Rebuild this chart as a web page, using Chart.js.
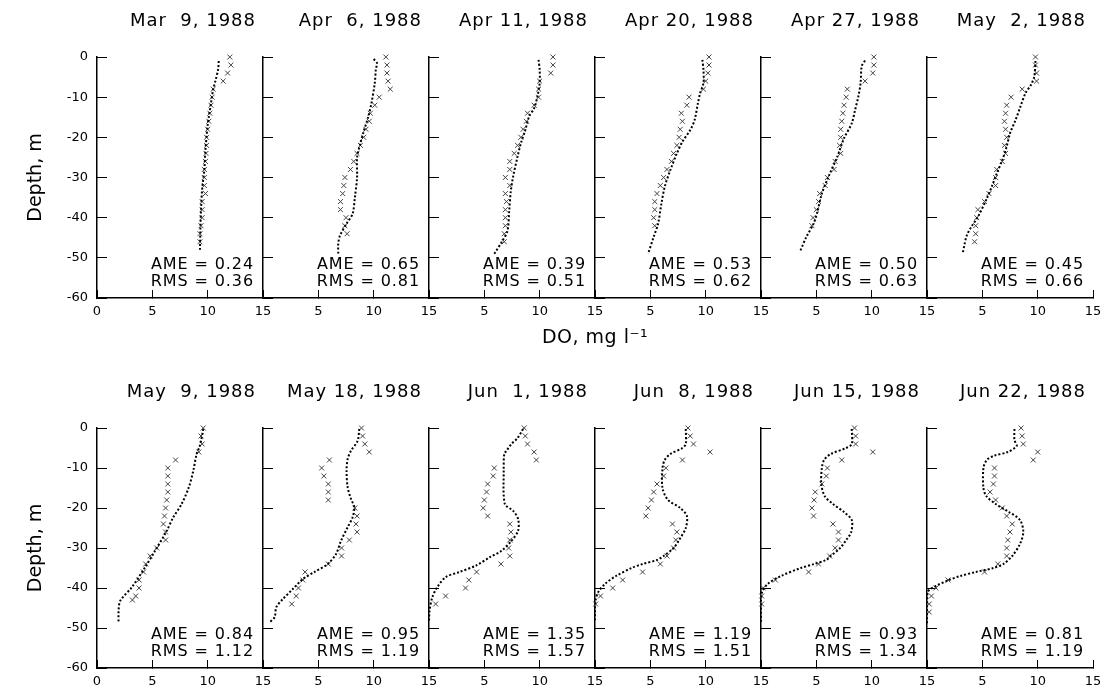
<!DOCTYPE html>
<html>
<head>
<meta charset="utf-8">
<script src="https://cdn.jsdelivr.net/npm/chart.js@4.4.1/dist/chart.umd.min.js"></script>
<style>
  body { margin: 0; background: #fff; }
  #wrap { position: relative; width: 1106px; height: 698px; }
  #wrap canvas { position: absolute; left: 0; top: 0; }
</style>
</head>
<body>
<div id="wrap"></div>
<script>
// survey dates, one panel each
const dates = [
  "Mar  9, 1988", "Apr  6, 1988", "Apr 11, 1988", "Apr 20, 1988", "Apr 27, 1988", "May  2, 1988",
  "May  9, 1988", "May 18, 1988", "Jun  1, 1988", "Jun  8, 1988", "Jun 15, 1988", "Jun 22, 1988",
];
const ame = ["0.24", "0.65", "0.39", "0.53", "0.50", "0.45", "0.84", "0.95", "1.35", "1.19", "0.93", "0.81"];
const rms = ["0.36", "0.81", "0.51", "0.62", "0.63", "0.66", "1.12", "1.19", "1.57", "1.51", "1.34", "1.19"];

const doTicks = [0, 5, 10, 15];
const depthTicks = [0, -10, -20, -30, -40, -50, -60];

// [DO mg/l, depth m] — simulated profile (dotted)
const mar09Model = [[11.0,-1],[10.95,-3],[10.7,-6],[10.5,-8],[10.3,-11.5],[10.1,-15],[10.0,-17],[9.8,-23],[9.7,-28],[9.5,-33],[9.4,-38],[9.35,-42],[9.3,-48.5]];
const apr06Model = [[10.0,-0.5],[10.3,-1.5],[10.2,-3],[10.1,-6.5],[9.8,-11.5],[9.5,-15],[9.1,-18.5],[8.8,-21.5],[8.5,-25],[8.5,-30],[8.3,-35],[8.1,-39],[7.55,-41.5],[6.95,-44.5],[6.8,-46.5],[6.8,-49]];
const apr11Model = [[9.9,-0.7],[10.0,-3.2],[10.0,-6.5],[9.8,-9.8],[9.5,-12.75],[9.05,-14.8],[8.7,-18.2],[8.3,-21.5],[8.0,-24.8],[7.6,-29.8],[7.4,-33.2],[7.25,-38.2],[7.1,-43.2],[6.65,-45.7],[5.9,-49]];
const apr20Model = [[9.7,-0.7],[9.8,-3.2],[9.8,-6.5],[9.5,-9],[9.3,-11.5],[9.0,-15.7],[8.6,-18.2],[7.9,-21.1],[7.4,-24],[6.8,-28.2],[6.3,-32.3],[6.0,-36.5],[5.7,-41.5],[5.3,-44.8],[4.8,-49]];
const apr27Model = [[9.4,-0.9],[9.1,-2.3],[9.0,-6.5],[8.8,-9.8],[8.5,-13.2],[8.2,-16.5],[7.5,-20.25],[6.9,-24.8],[6.1,-29.8],[5.5,-34],[5.05,-39],[4.75,-41.5],[4.1,-44.8],[3.5,-48.6]];
const may02Model = [[9.8,-1],[9.7,-4.8],[9.4,-6.9],[8.9,-9],[8.45,-12.3],[8.0,-15.7],[7.5,-19],[7.2,-22.3],[6.8,-25.7],[6.3,-29],[5.85,-32.3],[5.4,-35.25],[4.6,-39.8],[4.0,-42.3],[3.6,-44.4],[3.4,-46.5],[3.25,-48.6]];
const may09Model = [[9.6,-0.25],[9.4,-3.2],[9.25,-4.8],[9.0,-6.5],[8.7,-10.7],[8.3,-14.8],[7.65,-19],[6.9,-22.3],[6.3,-25.7],[5.25,-30.7],[4.35,-34.8],[3.15,-39.8],[2.1,-43.2],[1.95,-45.7],[1.95,-48.6]];
const may18Model = [[8.7,-0.25],[8.55,-3.2],[7.95,-5.7],[7.65,-7.75],[7.55,-10.7],[7.65,-14.8],[7.95,-17.75],[8.25,-19.8],[8.1,-22.3],[7.65,-24.8],[7.05,-28.2],[6.6,-31.5],[5.85,-34],[4.65,-36],[3.6,-37.75],[2.7,-40.25],[1.8,-42.75],[1.2,-44.8],[1.05,-47.3],[0.6,-48.6]];
const jun01Model = [[8.5,-0.25],[8.0,-2.5],[7.45,-4],[7.0,-5.7],[6.8,-6.5],[6.75,-10.7],[6.85,-19],[7.6,-20.7],[8.05,-22.75],[8.05,-25.7],[7.45,-28.2],[6.55,-30.7],[5.5,-32.3],[4.25,-34.4],[2.75,-36],[1.5,-37.3],[0.75,-39.8],[0.3,-42.3],[0.05,-45.7],[0.0,-48.5]];
const jun08Model = [[8.2,-0.25],[8.2,-4],[7.9,-5],[6.8,-6.5],[6.3,-8],[6.1,-10],[6.1,-15],[6.6,-18],[7.7,-20],[8.3,-22],[8.2,-25],[7.6,-28],[7.1,-30],[6.2,-32],[5.6,-33],[4.3,-34],[3.3,-35],[1.9,-37],[0.9,-39],[0.3,-41],[0.05,-43],[0,-45],[0,-48.5]];
const jun15Model = [[8.2,-0.25],[8.2,-4],[7.7,-5],[6.3,-6.5],[5.7,-8],[5.5,-10],[5.45,-14],[5.75,-17],[6.5,-19],[7.5,-21],[8.2,-23],[8.15,-26],[7.7,-28],[7.15,-30],[6.3,-32],[5.9,-33],[4.8,-34],[3.6,-35],[1.8,-37],[0.6,-39],[0.1,-41],[0,-43],[0,-48.5]];
const jun22Model = [[7.9,-0.25],[7.9,-3],[8.1,-4.5],[7.3,-6],[6.0,-7],[5.4,-8],[5.1,-10],[5.1,-15],[5.35,-17],[6.2,-19],[7.4,-21],[8.4,-23],[8.7,-26],[8.4,-29],[7.7,-32],[6.9,-34],[6.0,-35],[4.4,-36],[3.0,-37],[2.0,-38],[0.8,-39.5],[0.06,-41],[0,-45],[0,-49]];

// [DO mg/l, depth m] — measured (x marks)
const mar09Obs = [[12.0,0],[12.1,-2],[11.8,-4],[11.4,-6],[10.5,-8],[10.4,-10],[10.3,-12],[10.2,-14],[10.1,-16],[10.0,-18],[9.9,-20],[9.9,-22],[9.85,-24],[9.8,-26],[9.7,-28],[9.7,-30],[9.7,-32],[9.8,-34],[9.5,-36],[9.5,-38],[9.5,-40],[9.4,-42],[9.3,-44],[9.3,-46]];
const apr06Obs = [[11.1,0],[11.2,-2],[11.2,-4],[11.3,-6],[11.5,-8],[10.5,-10],[10.1,-12],[9.7,-14],[9.6,-16],[9.3,-18],[9.1,-20],[8.8,-22],[8.5,-24],[8.2,-26],[7.9,-28],[7.4,-30],[7.3,-32],[7.2,-34],[7.0,-36],[7.0,-38],[7.5,-40],[7.4,-42],[7.6,-44]];
const apr11Obs = [[11.2,0],[11.2,-2],[11.0,-4],[10.0,-6],[9.9,-8],[9.9,-10],[9.5,-12],[8.9,-14],[8.8,-16],[8.5,-18],[8.3,-20],[8.0,-22],[7.7,-24],[7.3,-26],[7.3,-28],[6.9,-30],[7.3,-32],[6.9,-34],[7.0,-36],[6.9,-38],[6.9,-40],[6.9,-42],[6.8,-44],[6.8,-46]];
const apr20Obs = [[10.3,0],[10.3,-2],[10.2,-4],[10.0,-6],[9.8,-8],[8.5,-10],[8.3,-12],[7.8,-14],[7.9,-16],[7.7,-18],[7.6,-20],[7.4,-22],[7.1,-24],[6.9,-26],[6.5,-28],[6.2,-30],[5.9,-32],[5.6,-34],[5.4,-36],[5.4,-38],[5.3,-40],[5.4,-42]];
const apr27Obs = [[10.2,0],[10.2,-2],[10.1,-4],[9.4,-6],[7.8,-8],[7.7,-10],[7.5,-12],[7.4,-14],[7.3,-16],[7.2,-18],[7.2,-20],[7.1,-22],[7.2,-24],[6.7,-26],[6.6,-28],[6.0,-30],[5.8,-32],[5.3,-34],[5.2,-36],[5.0,-38],[4.7,-40],[4.6,-42]];
const may02Obs = [[9.8,0],[9.8,-2],[9.9,-4],[9.9,-6],[8.6,-8],[7.6,-10],[7.2,-12],[7.1,-14],[7.0,-16],[7.1,-18],[7.2,-20],[7.0,-22],[7.1,-24],[6.8,-26],[6.3,-28],[6.2,-30],[6.2,-32],[5.6,-34],[5.2,-36],[4.6,-38],[4.5,-40],[4.4,-42],[4.4,-44],[4.3,-46]];
const may09Obs = [[9.6,0],[9.4,-2],[9.5,-4],[9.2,-6],[7.1,-8],[6.4,-10],[6.4,-12],[6.4,-14],[6.4,-16],[6.3,-18],[6.2,-20],[6.1,-22],[6.0,-24],[6.2,-26],[6.2,-28],[5.4,-30],[4.8,-32],[4.4,-34],[4.2,-36],[3.8,-38],[3.8,-40],[3.5,-42],[3.2,-43]];
const may18Obs = [[8.9,0],[9.0,-2],[9.2,-4],[9.6,-6],[6.0,-8],[5.3,-10],[5.5,-12],[5.9,-14],[5.9,-16],[5.9,-18],[8.3,-20],[8.5,-22],[8.4,-24],[8.5,-26],[7.8,-28],[7.1,-30],[7.1,-32],[5.9,-34],[3.8,-36],[3.6,-38],[3.2,-40],[3.0,-42],[2.6,-44]];
const jun01Obs = [[8.6,0],[8.7,-2],[8.9,-4],[9.5,-6],[9.7,-8],[5.9,-10],[5.8,-12],[5.3,-14],[5.2,-16],[5.0,-18],[4.9,-20],[5.3,-22],[7.3,-24],[7.4,-26],[7.3,-28],[7.2,-30],[7.3,-32],[6.5,-34],[4.3,-36],[3.6,-38],[3.3,-40],[1.5,-42],[0.6,-44]];
const jun08Obs = [[8.4,0],[8.6,-2],[8.9,-4],[10.4,-6],[7.9,-8],[6.4,-10],[6.2,-12],[5.6,-14],[5.3,-16],[5.1,-18],[4.8,-20],[4.6,-22],[7.0,-24],[7.4,-26],[7.3,-28],[7.1,-30],[6.5,-32],[5.9,-34],[4.3,-36],[2.5,-38],[1.6,-40],[0.5,-42],[0.06,-44]];
const jun15Obs = [[8.45,0],[8.55,-2],[8.55,-4],[10.1,-6],[7.3,-8],[6.0,-10],[5.9,-12],[5.5,-14],[4.9,-16],[4.8,-18],[4.6,-20],[4.75,-22],[6.5,-24],[7.0,-26],[7.0,-28],[6.7,-30],[6.2,-32],[5.2,-34],[4.3,-36],[1.3,-38],[0.2,-40],[0.06,-42],[0.06,-44]];
const jun22Obs = [[8.5,0],[8.6,-2],[8.7,-4],[10.0,-6],[9.6,-8],[6.1,-10],[6.1,-12],[6.0,-14],[5.7,-16],[6.2,-18],[6.8,-20],[7.2,-22],[7.7,-24],[7.5,-26],[7.3,-28],[7.2,-30],[7.2,-32],[6.4,-34],[5.2,-36],[1.9,-38],[0.8,-40],[0.4,-42],[0.2,-44],[0.2,-46]];

const models = [mar09Model, apr06Model, apr11Model, apr20Model, apr27Model, may02Model,
                may09Model, may18Model, jun01Model, jun08Model, jun15Model, jun22Model];
const observed = [mar09Obs, apr06Obs, apr11Obs, apr20Obs, apr27Obs, may02Obs,
                  may09Obs, may18Obs, jun01Obs, jun08Obs, jun15Obs, jun22Obs];

// page layout (px)
const W = 1106, H = 698;
const firstLeft = 97, panelW = 166;
const rows = [{ top: 57, bottom: 298 }, { top: 428, bottom: 668 }];
const xAxisH = 30;
const font = "DejaVu Sans";

const toXY = (pairs) => pairs.map(([x, y]) => ({ x, y }));

const panelText = {
  id: "panelText",
  afterDraw(chart, args, opts) {
    const ctx = chart.ctx;
    const a = chart.chartArea;
    ctx.save();
    ctx.fillStyle = "#000";
    ctx.textAlign = "right";
    ctx.textBaseline = "middle";
    ctx.font = `18px "${font}"`;
    ctx.letterSpacing = "1px";
    ctx.fillText(opts.title, a.right - 7, a.top - 36);
    ctx.font = `16px "${font}"`;
    ctx.letterSpacing = "0.9px";
    ctx.fillText("AME = " + opts.ame, a.right - 9, a.bottom - 33);
    ctx.fillText("RMS = " + opts.rms, a.right - 9, a.bottom - 16);
    if (opts.xTitle) {
      ctx.textAlign = "center";
      ctx.letterSpacing = "0.5px";
      ctx.font = `19px "${font}"`;
      ctx.fillText("DO, mg l⁻¹", 595, opts.xTitleY);
    }
    ctx.restore();
  },
};

const wrap = document.getElementById("wrap");

for (let k = 0; k < 12; k++) {
  const row = Math.floor(k / 6);
  const col = k % 6;
  const left = firstLeft + panelW * col;
  const right = col === 5 ? 1093 : left + panelW;
  const r = rows[row];
  const yAxisW = col === 0 ? left - 21 : 0;

  const canvas = document.createElement("canvas");
  canvas.width = W;
  canvas.height = H;
  wrap.appendChild(canvas);

  new Chart(canvas, {
    type: "scatter",
    data: {
      datasets: [
        {
          label: "model",
          data: toXY(models[k]),
          showLine: true,
          borderColor: "#000",
          borderWidth: 2,
          borderDash: [2, 2],
          pointRadius: 0,
          tension: 0.3,
        },
        {
          label: "observed",
          data: toXY(observed[k]),
          showLine: false,
          pointStyle: "crossRot",
          pointRadius: 3.5,
          borderColor: "#444",
          borderWidth: 1,
          clip: false,
        },
      ],
    },
    options: {
      responsive: false,
      animation: false,
      layout: {
        padding: { left: col === 0 ? 21 : left, right: W - right, top: r.top, bottom: H - r.bottom - xAxisH },
      },
      plugins: {
        legend: { display: false },
        tooltip: { enabled: false },
        panelText: {
          title: dates[k],
          ame: ame[k],
          rms: rms[k],
          xTitle: k === 0,
          xTitleY: 338,
        },
      },
      scales: {
        x: {
          type: "linear",
          min: doTicks[0],
          max: doTicks[doTicks.length - 1],
          afterBuildTicks: (s) => { s.ticks = doTicks.map((v) => ({ value: v })); },
          afterFit: (s) => {
            s.height = xAxisH;
            s.paddingLeft = 0; s.paddingRight = 0;
          },
          grid: { drawOnChartArea: false, tickLength: -8, color: "#000", lineWidth: 1 },
          border: { display: true, color: "#000", width: 1.5 },
          ticks: {
            autoSkip: false,
            maxRotation: 0,
            padding: 14,
            color: "#000",
            font: { family: font, size: 13 },
            callback: (v) => (col > 0 && v === 0 ? "" : String(v)),
          },
        },
        y: {
          type: "linear",
          min: depthTicks[depthTicks.length - 1],
          max: depthTicks[0],
          afterBuildTicks: (s) => { s.ticks = depthTicks.map((v) => ({ value: v })); },
          afterFit: (s) => {
            s.width = yAxisW;
            s.paddingTop = 0; s.paddingBottom = 0;
          },
          grid: { drawOnChartArea: false, tickLength: -10, color: "#000", lineWidth: 1 },
          border: { display: true, color: "#000", width: 1.5 },
          title: {
            display: col === 0,
            text: "Depth, m",
            color: "#000",
            font: { family: font, size: 19 },
            padding: { top: 4, bottom: 4 },
          },
          ticks: {
            display: col === 0,
            autoSkip: false,
            padding: 19,
            color: "#000",
            font: { family: font, size: 13 },
          },
        },
      },
    },
    plugins: [panelText],
  });
}
</script>
</body>
</html>
